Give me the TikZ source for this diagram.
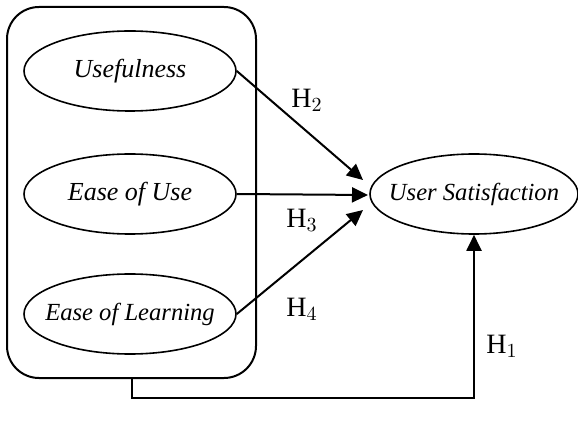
\documentclass[tikz,border=0pt]{standalone}
\usepackage{fontspec}
\setmainfont{Liberation Serif}
\usepackage{tikz}
\usetikzlibrary{arrows.meta, positioning, shapes}

\begin{document}
\begin{tikzpicture}[x = 0.5pt, y = -0.5pt, line width = 1pt,
	construct/.style = {ellipse, draw, line width = 0.8pt, inner ysep = 0pt, inner xsep = -8pt,
		minimum width = 106pt, minimum height = 40pt,
		font = \fontsize{13}{15}\selectfont\itshape},
	hyp/.style = {font = \fontsize{14}{16}\selectfont},
	>={Triangle[length = 8pt, width = 7.5pt]}]

	\useasboundingbox (0,0) rectangle (578,427);

	% group of the three constructs
	\node (grp) [draw, rounded corners = 16pt, minimum width = 124.5pt,
		minimum height = 185.5pt] at (131.5,192.5) {};
	\node (use) [construct] at (130,71) {Usefulness};
	\node (ease) [construct] at (130,194) {Ease of Use};
	\node (learn) [construct, font = \fontsize{12.3}{15}\selectfont\itshape] at (130,314) {Ease of Learning};

	\node (sat) [construct, minimum width = 104pt, font = \fontsize{12.3}{14}\selectfont\itshape]
		at (474,194) {User Satisfaction};

	% arrow tips in front of the ellipse
	\coordinate (t2) at (363,180);
	\coordinate (t3) at (368,195);
	\coordinate (t4) at (363,210);

	\draw[->] (use.east) -- (t2);
	\draw[->] (ease.east) -- (t3);
	\draw[->] (learn.east) -- (t4);
	\draw[->] (grp.south) -- ++(0,19) -| (sat.south);

	\node (h2) [hyp] at (307,100) {$\mathrm{H}_2$};
	\node (h3) [hyp] at (302,220) {$\mathrm{H}_3$};
	\node (h4) [hyp] at (302,309) {$\mathrm{H}_4$};
	\node (h1) [hyp] at (502,346) {$\mathrm{H}_1$};
\end{tikzpicture}
\end{document}
